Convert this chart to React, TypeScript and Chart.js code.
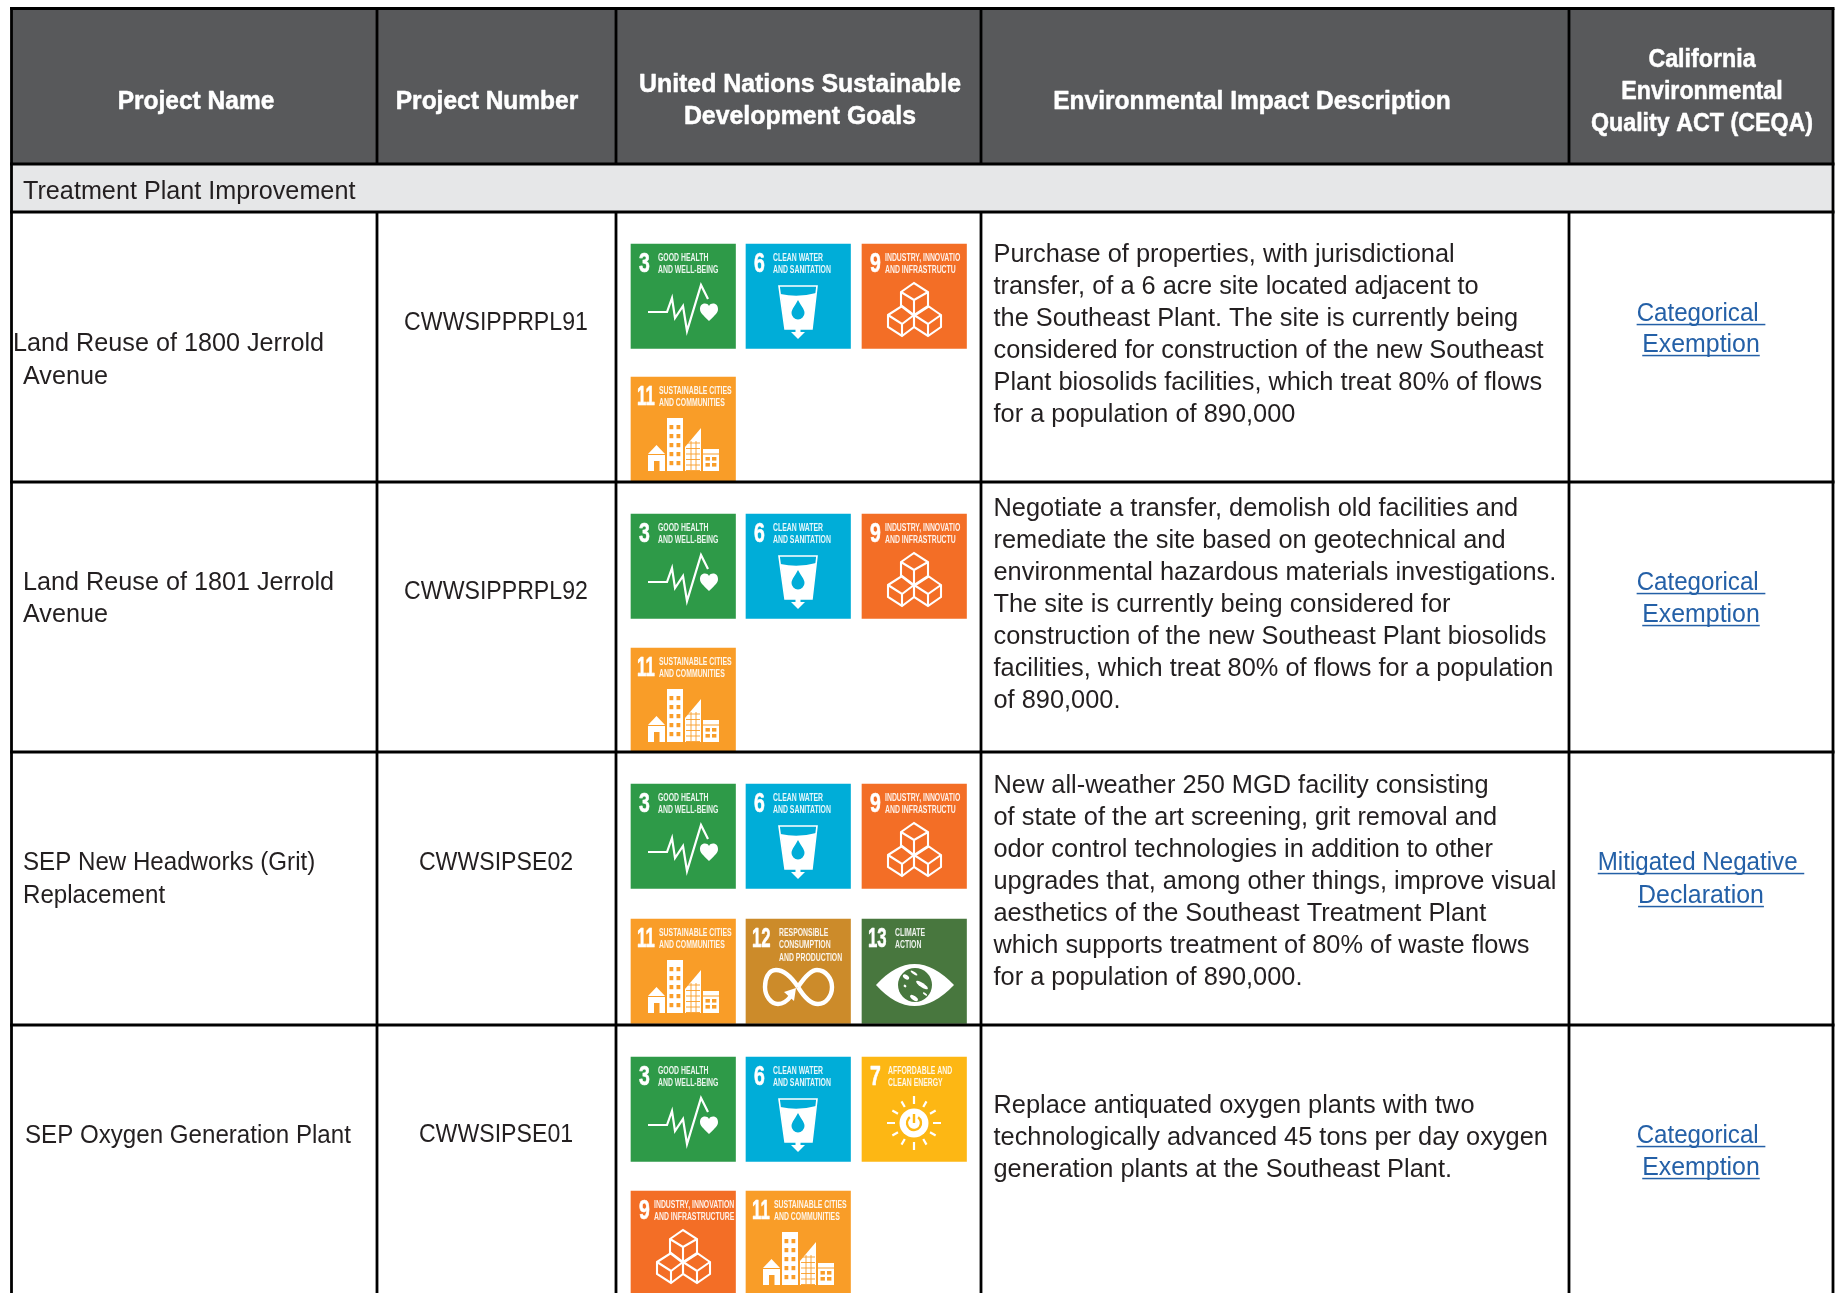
import React, { useEffect, useRef } from "react";
import { Chart, registerables } from "chart.js";

Chart.register(...registerables);

const W = 1837;
const H = 1293;

const headerLabels = [
  ["Project Name"],
  ["Project Number"],
  ["United Nations Sustainable", "Development Goals"],
  ["Environmental Impact Description"],
  ["California", "Environmental", "Quality ACT (CEQA)"],
];
const sectionLabel = "Treatment Plant Improvement";
const projectNames = [
  ["Land Reuse of 1800 Jerrold", "Avenue"],
  ["Land Reuse of 1801 Jerrold", "Avenue"],
  ["SEP New Headworks (Grit)", "Replacement"],
  ["SEP Oxygen Generation Plant"],
];
const projectNumbers = ["CWWSIPPRPL91", "CWWSIPPRPL92", "CWWSIPSE02", "CWWSIPSE01"];
const descriptions = [
  [
    "Purchase of properties, with jurisdictional",
    "transfer, of a 6 acre site located adjacent to",
    "the Southeast Plant. The site is currently being",
    "considered for construction of the new Southeast",
    "Plant biosolids facilities, which treat 80% of flows",
    "for a population of 890,000",
  ],
  [
    "Negotiate a transfer, demolish old facilities and",
    "remediate the site based on geotechnical and",
    "environmental hazardous materials investigations.",
    "The site is currently being considered for",
    "construction of the new Southeast Plant biosolids",
    "facilities, which treat 80% of flows for a population",
    "of 890,000.",
  ],
  [
    "New all-weather 250 MGD facility consisting",
    "of state of the art screening, grit removal and",
    "odor control technologies in addition to other",
    "upgrades that, among other things, improve visual",
    "aesthetics of the Southeast Treatment Plant",
    "which supports treatment of 80% of waste flows",
    "for a population of 890,000.",
  ],
  [
    "Replace antiquated oxygen plants with two",
    "technologically advanced 45 tons per day oxygen",
    "generation plants at the Southeast Plant.",
  ],
];
const ceqaLinks = [
  ["Categorical ", "Exemption"],
  ["Categorical ", "Exemption"],
  ["Mitigated Negative ", "Declaration"],
  ["Categorical ", "Exemption"],
];
const rowGoals = [
  ["3", "6", "9c", "11"],
  ["3", "6", "9c", "11"],
  ["3", "6", "9c", "11", "12", "13"],
  ["3", "6", "7", "9", "11"],
];

type Goal = { num: string; title: string[]; color: string; icon: string; nu: number; tu: number };
const GOALS: Record<string, Goal> = {
  "3": { num: "3", title: ["GOOD HEALTH", "AND WELL-BEING"], color: "#2E9A48", icon: "health", nu: 8, tu: 27 },
  "6": { num: "6", title: ["CLEAN WATER", "AND SANITATION"], color: "#00ADD8", icon: "water", nu: 8, tu: 27 },
  "7": { num: "7", title: ["AFFORDABLE AND", "CLEAN ENERGY"], color: "#FDB714", icon: "sun", nu: 8, tu: 26 },
  "9c": { num: "9", title: ["INDUSTRY, INNOVATIO", "AND INFRASTRUCTU"], color: "#F36E26", icon: "cubes", nu: 8, tu: 23 },
  "9": { num: "9", title: ["INDUSTRY, INNOVATION", "AND INFRASTRUCTURE"], color: "#F36E26", icon: "cubes", nu: 8, tu: 23 },
  "11": { num: "11", title: ["SUSTAINABLE CITIES", "AND COMMUNITIES"], color: "#F99D28", icon: "city", nu: 6, tu: 28 },
  "12": { num: "12", title: ["RESPONSIBLE", "CONSUMPTION", "AND PRODUCTION"], color: "#CC8B2A", icon: "loop", nu: 6, tu: 33 },
  "13": { num: "13", title: ["CLIMATE", "ACTION"], color: "#48773E", icon: "eye", nu: 6, tu: 33 },
};

// table layout
const colEdges = [11.5, 377, 616, 981, 1569, 1833];
const rowEdges = [8.5, 164, 212, 482, 752, 1025, 1320];
const tileX = [631, 746, 862];
const tileTops = [[244, 377], [514, 648], [784, 919], [1057, 1191]];
const TILE = 104.5;
const TEXT_DY = 2.3;
const nameY = [[342, 375], [581, 613], [861, 894], [1134]];
const nameX = [[13, 23], [23, 23], [23, 23], [25]];
const numberY = [321, 590, 861, 1133];
const descY = [253, 507, 784, 1104];
const linkY = [[312, 343], [581, 613], [861, 894], [1134, 1166]];
const headerCx = [196, 487, 800, 1252, 1702];
const headerY = [[99.5], [99.5], [83, 115], [99.5], [57.5, 90, 122]];
const LINE_H = 31.9;

const BODY = "25px 'Liberation Sans'";
const HEAD = "bold 25px 'Liberation Sans'";
const DESC_SX = 1.015;
const SECTION_SX = 1.008;
const NAME_SX = [1.008, 1.008, 0.965, 0.965];
const NUMBER_SX = 0.925;
const LINK_SX = [0.965, 0.995];
const HEAD_SX = [0.98, 0.98, 0.995, 0.98, 0.93];

function text(ctx: any, s: string, x: number, y: number, font: string, color: string, sx = 1, align = "left", halo = 0) {
  ctx.save();
  ctx.font = font;
  ctx.fillStyle = color;
  ctx.textBaseline = "middle";
  ctx.textAlign = "left";
  const w = ctx.measureText(s).width * sx;
  const left = align === "center" ? x - w / 2 : x;
  ctx.translate(left, y);
  ctx.scale(sx, 1);
  if (halo) {
    ctx.strokeStyle = color;
    ctx.lineWidth = halo;
    ctx.lineJoin = "round";
    ctx.strokeText(s, 0, 0);
  }
  ctx.fillText(s, 0, 0);
  ctx.restore();
  return { left, w };
}

function drawIcon(ctx: any, icon: string, color: string) {
  ctx.strokeStyle = "#fff";
  ctx.fillStyle = "#fff";
  ctx.lineJoin = "miter";
  const poly = (pts: number[][], close = true) => {
    ctx.beginPath();
    pts.forEach((p, i) => (i ? ctx.lineTo(p[0], p[1]) : ctx.moveTo(p[0], p[1])));
    if (close) ctx.closePath();
  };
  const rect = (x: number, y: number, w: number, h: number, c = "#fff") => {
    ctx.fillStyle = c;
    ctx.fillRect(x, y, w, h);
    ctx.fillStyle = "#fff";
  };
  if (icon === "health") {
    ctx.lineWidth = 2.2;
    poly([[17, 68], [36, 68], [41, 54], [44, 74], [52, 62], [56, 87], [70, 41], [77, 55]], false);
    ctx.stroke();
    ctx.beginPath();
    ctx.moveTo(78, 77);
    ctx.bezierCurveTo(72, 71, 69, 69, 69, 65);
    ctx.bezierCurveTo(69, 59, 76, 58, 78, 62);
    ctx.bezierCurveTo(80, 58, 87, 59, 87, 65);
    ctx.bezierCurveTo(87, 69, 84, 71, 78, 77);
    ctx.fill();
  } else if (icon === "water") {
    ctx.lineWidth = 1.6;
    poly([[33, 42], [71, 42], [66, 85], [39, 85]]);
    ctx.stroke();
    ctx.beginPath();
    ctx.moveTo(34.5, 50);
    ctx.quadraticCurveTo(52, 54, 70, 49);
    ctx.lineTo(66, 85);
    ctx.lineTo(39, 85);
    ctx.closePath();
    ctx.fill();
    rect(49.5, 85, 5, 6);
    poly([[45, 88], [59, 88], [52, 95]]);
    ctx.fill();
    ctx.fillStyle = color;
    ctx.beginPath();
    ctx.moveTo(52, 56);
    ctx.bezierCurveTo(55, 62, 58.5, 65, 58.5, 69);
    ctx.arc(52, 69, 6.5, 0, Math.PI);
    ctx.bezierCurveTo(45.5, 65, 49, 62, 52, 56);
    ctx.fill();
  } else if (icon === "cubes") {
    ctx.lineWidth = 2.1;
    poly([[39, 48], [52, 39], [66, 48], [66, 63], [52, 72], [39, 62]]);
    ctx.stroke();
    poly([[39, 48], [52, 56], [66, 48]], false);
    ctx.stroke();
    poly([[52, 56], [52, 72]], false);
    ctx.stroke();
    poly([[26, 71], [40, 62], [52, 71], [52, 83], [40, 92], [26, 83]]);
    ctx.stroke();
    poly([[26, 71], [40, 80], [52, 71]], false);
    ctx.stroke();
    poly([[40, 80], [40, 92]], false);
    ctx.stroke();
    poly([[79, 71], [66, 62], [52, 71], [52, 83], [66, 92], [79, 83]]);
    ctx.stroke();
    poly([[79, 71], [66, 80], [52, 71]], false);
    ctx.stroke();
    poly([[66, 80], [66, 92]], false);
    ctx.stroke();
  } else if (icon === "city") {
    poly([[17, 77], [25.5, 68], [34, 77]]);
    ctx.fill();
    rect(17, 78, 17, 16);
    rect(23, 84, 5.5, 10, color);
    rect(36, 41, 16, 53);
    for (let r = 0; r < 5; r++) {
      for (let c = 0; c < 2; c++) rect(38.5 + c * 7, 48 + r * 9, 3.8, 4.2, color);
    }
    poly([[54, 70], [70, 51], [70, 94], [54, 94]]);
    ctx.fill();
    ctx.strokeStyle = color;
    ctx.lineWidth = 0.9;
    for (let y = 66; y < 94; y += 5.5) {
      poly([[55, y], [69, y]], false);
      ctx.stroke();
    }
    for (const x of [60, 65]) {
      poly([[x, 64], [x, 93]], false);
      ctx.stroke();
    }
    rect(72, 72, 16, 22);
    ctx.lineWidth = 1.2;
    poly([[72, 77], [88, 77]], false);
    ctx.stroke();
    for (let r = 0; r < 2; r++) {
      for (let c = 0; c < 2; c++) rect(74.5 + c * 6.5, 80 + r * 6, 4.4, 3.6, color);
    }
  } else if (icon === "loop") {
    ctx.lineWidth = 4.4;
    ctx.beginPath();
    ctx.moveTo(52, 68);
    ctx.bezierCurveTo(44, 56, 36, 51, 30, 51);
    ctx.bezierCurveTo(22, 51, 19, 60, 19, 68);
    ctx.bezierCurveTo(19, 77, 25, 85, 32, 85);
    ctx.bezierCurveTo(38, 85, 42, 81, 45, 77);
    ctx.stroke();
    ctx.beginPath();
    ctx.moveTo(52, 68);
    ctx.bezierCurveTo(60, 56, 66, 51, 71, 51);
    ctx.bezierCurveTo(80, 51, 86, 60, 86, 68);
    ctx.bezierCurveTo(86, 77, 80, 85, 72, 85);
    ctx.bezierCurveTo(65, 85, 58, 78, 52, 68);
    ctx.stroke();
    poly([[38, 73], [50, 69], [48, 82]]);
    ctx.fill();
  } else if (icon === "eye") {
    ctx.beginPath();
    ctx.moveTo(14, 66);
    ctx.quadraticCurveTo(52, 24, 92, 66);
    ctx.quadraticCurveTo(52, 108, 14, 66);
    ctx.fill();
    ctx.fillStyle = color;
    ctx.beginPath();
    ctx.arc(53, 66, 17, 0, Math.PI * 2);
    ctx.fill();
    ctx.fillStyle = "#fff";
    const blobs = [[44, 58, 3.5, 2], [52, 54, 4, 1.2], [60, 66, 7, 2.2], [52, 79, 4.5, 2], [43, 67, 1.5, 1.2], [63, 75, 2.5, 1]];
    blobs.forEach((b) => {
      ctx.beginPath();
      ctx.ellipse(b[0], b[1], b[2], b[3], 0.6, 0, Math.PI * 2);
      ctx.fill();
    });
  } else if (icon === "sun") {
    ctx.beginPath();
    ctx.arc(52, 66, 14.5, 0, Math.PI * 2);
    ctx.fill();
    ctx.lineWidth = 2.2;
    for (let i = 0; i < 12; i++) {
      const a = (i * Math.PI) / 6;
      const r1 = i % 3 === 0 ? 19 : 18.5;
      const r2 = i % 3 === 0 ? 27 : 25;
      poly([[52 + r1 * Math.cos(a), 66 + r1 * Math.sin(a)], [52 + r2 * Math.cos(a), 66 + r2 * Math.sin(a)]], false);
      ctx.stroke();
    }
    ctx.strokeStyle = color;
    ctx.lineWidth = 2.4;
    ctx.beginPath();
    ctx.arc(52, 66, 7, -Math.PI * 0.3, Math.PI * 1.3);
    ctx.stroke();
    poly([[52, 57], [52, 66]], false);
    ctx.stroke();
  }
}

function drawTile(ctx: any, g: Goal, x: number, y: number) {
  ctx.save();
  ctx.beginPath();
  ctx.rect(x, y, TILE, TILE);
  ctx.clip();
  ctx.translate(x, y);
  text(ctx, g.num, g.nu, 20.5, "bold 27px 'Liberation Sans'", "#fff", g.num.length > 1 ? 0.62 : 0.72, "left", 0.6);
  g.title.forEach((t, i) => {
    text(ctx, t, g.tu, 14 + i * 12.4, "bold 10.6px 'Liberation Sans'", "rgba(255,255,255,0.9)", 0.65);
  });
  drawIcon(ctx, g.icon, g.color);
  ctx.restore();
}

const tableCells = {
  id: "tableCells",
  beforeDatasetsDraw(chart: any) {
    const { ctx, scales } = chart;
    const px = (v: number) => scales.x.getPixelForValue(v);
    const py = (v: number) => scales.y.getPixelForValue(v);
    ctx.save();
    ctx.fillStyle = "#58595B";
    ctx.fillRect(px(colEdges[0]), py(rowEdges[0]), px(colEdges[5]) - px(colEdges[0]), py(rowEdges[1]) - py(rowEdges[0]));
    ctx.fillStyle = "#E6E7E8";
    ctx.fillRect(px(colEdges[0]), py(rowEdges[1]), px(colEdges[5]) - px(colEdges[0]), py(rowEdges[2]) - py(rowEdges[1]));
    ctx.restore();
  },
  afterDatasetsDraw(chart: any) {
    const { ctx, scales } = chart;
    const px = (v: number) => scales.x.getPixelForValue(v);
    const py = (v: number) => scales.y.getPixelForValue(v + TEXT_DY);
    const pl = (v: number) => scales.y.getPixelForValue(v);
    ctx.save();
    rowGoals.forEach((goals, r) => {
      goals.forEach((k, i) => {
        drawTile(ctx, GOALS[k], px(tileX[i % 3]), pl(tileTops[r][Math.floor(i / 3)]));
      });
    });
    headerLabels.forEach((lines, c) => {
      lines.forEach((s, i) => {
        text(ctx, s, px(headerCx[c]), py(headerY[c][i]), HEAD, "#fff", HEAD_SX[c], "center", 0.5);
      });
    });
    text(ctx, sectionLabel, px(23), py(190), BODY, "#231F20", SECTION_SX);
    const ink = "#231F20";
    projectNames.forEach((lines, r) => {
      lines.forEach((s, i) => text(ctx, s, px(nameX[r][i]), py(nameY[r][i]), BODY, ink, NAME_SX[r]));
      text(ctx, projectNumbers[r], px(496), py(numberY[r]), BODY, ink, NUMBER_SX, "center");
      descriptions[r].forEach((s, i) => text(ctx, s, px(993.5), py(descY[r] + i * LINE_H), BODY, ink, DESC_SX));
      ceqaLinks[r].forEach((s, i) => {
        const m = text(ctx, s, px(1701), py(linkY[r][i]), BODY, "#2460A7", LINK_SX[i], "center");
        ctx.fillStyle = "#2460A7";
        ctx.fillRect(m.left, py(linkY[r][i]) + 9.5, m.w, 1.5);
      });
    });
    ctx.strokeStyle = "#000";
    rowEdges.slice(0, 6).forEach((v, i) => {
      ctx.lineWidth = i === 0 ? 3 : 2.8;
      ctx.beginPath();
      ctx.moveTo(px(colEdges[0]) - 1.5, pl(v));
      ctx.lineTo(px(colEdges[5]) + 1.5, pl(v));
      ctx.stroke();
    });
    colEdges.forEach((v, i) => {
      const section = i > 0 && i < 5;
      ctx.lineWidth = 2.8;
      if (section) {
        [[rowEdges[0], rowEdges[1]], [rowEdges[2], H]].forEach(([a, b]) => {
          ctx.beginPath();
          ctx.moveTo(px(v), pl(a));
          ctx.lineTo(px(v), pl(b));
          ctx.stroke();
        });
      } else {
        ctx.beginPath();
        ctx.moveTo(px(v), pl(rowEdges[0]));
        ctx.lineTo(px(v), pl(H));
        ctx.stroke();
      }
    });
    ctx.restore();
  },
};

export default function App() {
  const ref = useRef<HTMLCanvasElement>(null);
  useEffect(() => {
    document.body.style.margin = "0";
    document.documentElement.style.overflow = "hidden";
    const tiles: any[] = [];
    const colors: string[] = [];
    rowGoals.forEach((goals, r) => {
      goals.forEach((k, i) => {
        const top = tileTops[r][Math.floor(i / 3)];
        tiles.push({ x: tileX[i % 3] + TILE / 2, y: [top, top + TILE] });
        colors.push(GOALS[k].color);
      });
    });
    const chart = new Chart(ref.current!, {
      type: "bar",
      data: {
        datasets: [
          {
            label: "SDG tiles",
            data: tiles,
            backgroundColor: colors,
            barThickness: TILE,
            borderWidth: 0,
          } as any,
        ],
      },
      options: {
        animation: false,
        responsive: false,
        layout: { padding: 0 },
        plugins: { legend: { display: false }, tooltip: { enabled: false }, title: { display: false } },
        scales: {
          x: { type: "linear", min: 0, max: W, display: false, offset: false },
          y: { type: "linear", min: 0, max: H, reverse: true, display: false },
        },
      },
      plugins: [tableCells],
    });
    return () => chart.destroy();
  }, []);
  return (
    <canvas ref={ref} width={W} height={H} style={{ display: "block", position: "absolute", left: 0, top: 0, width: W, height: H }} />
  );
}
